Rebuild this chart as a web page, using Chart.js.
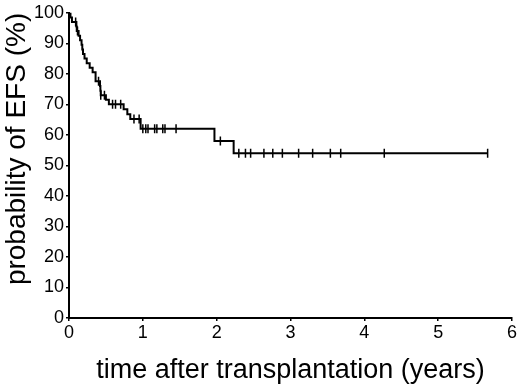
<!DOCTYPE html>
<html>
<head>
<meta charset="utf-8">
<script src="https://cdn.jsdelivr.net/npm/chart.js@4"></script>
<style>
  html, body { margin: 0; padding: 0; background: #fff; }
  #wrap { width: 520px; height: 387px; }
</style>
</head>
<body>
<div id="wrap"><canvas id="efsChart" width="520" height="387"></canvas></div>
<script>
// Kaplan-Meier steps: time (years) and survival level after each event (%)
const eventTimes = [0, 0.02, 0.04, 0.10, 0.105, 0.13, 0.15, 0.17, 0.18, 0.19, 0.21, 0.24, 0.28, 0.32, 0.36, 0.42, 0.425, 0.43, 0.50, 0.54, 0.74, 0.79, 0.83, 0.97, 1.97, 2.23, 5.67];
const survival   = [100, 98.5, 97, 95.5, 94, 92.5, 91, 89.5, 88, 86.5, 85, 83.5, 82, 80.5, 77.6, 76, 74.5, 73, 71.5, 70, 68.4, 66.8, 65.2, 62, 58, 54, 54];

// censored patients (tick marks on the curve)
const censorTimes  = [0.09, 0.115, 0.40, 0.43, 0.48, 0.59, 0.63, 0.70, 0.88, 0.95, 1.00, 1.04, 1.07, 1.16, 1.19, 1.27, 1.30, 1.45, 2.05, 2.30, 2.39, 2.46, 2.64, 2.76, 2.89, 3.11, 3.30, 3.54, 3.68, 4.27, 5.67];
const censorLevels = [97, 94, 77.6, 73, 73, 70, 70, 70, 65.2, 65.2, 62, 62, 62, 62, 62, 62, 62, 62, 58, 54, 54, 54, 54, 54, 54, 54, 54, 54, 54, 54, 54];

const xTicks = [0, 1, 2, 3, 4, 5, 6];
const yTicks = [0, 10, 20, 30, 40, 50, 60, 70, 80, 90, 100];

const curve = eventTimes.map((t, i) => ({ x: t, y: survival[i] }));
const censored = censorTimes.map((t, i) => ({ x: t, y: censorLevels[i] }));

const font = 'Arial, "Liberation Sans", Helvetica, sans-serif';

const ctx = document.getElementById('efsChart').getContext('2d');
new Chart(ctx, {
  type: 'line',
  data: {
    datasets: [{
      data: curve,
      borderColor: '#000',
      borderWidth: 2,
      stepped: 'before',
      pointRadius: 0,
      fill: false
    }, {
      data: censored,
      showLine: false,
      pointStyle: 'line',
      rotation: 90,
      pointRadius: 4.5,
      borderColor: '#000',
      borderWidth: 1.5,
      backgroundColor: '#000'
    }]
  },
  options: {
    responsive: false,
    animation: false,
    layout: { autoPadding: false, padding: { top: 9, right: 8, left: 0, bottom: 0 } },
    plugins: { legend: { display: false }, tooltip: { enabled: false } },
    scales: {
      x: {
        type: 'linear',
        min: 0,
        max: 6,
        afterFit: s => { s.height = 69; },
        afterBuildTicks: s => { s.ticks = xTicks.map(v => ({ value: v })); },
        border: { color: '#000', width: 2 },
        grid: { drawOnChartArea: false, drawTicks: true, tickLength: 3, tickColor: '#000', lineWidth: 1.5 },
        ticks: { color: '#000', font: { family: font, size: 18 }, padding: 1, maxRotation: 0 },
        title: {
          display: true,
          text: 'time after transplantation (years)',
          color: '#000',
          font: { family: font, size: 27 },
          padding: { top: 0, bottom: 0 }
        }
      },
      y: {
        type: 'linear',
        min: 0,
        max: 100,
        afterFit: s => { s.width = 69; },
        afterBuildTicks: s => { s.ticks = yTicks.map(v => ({ value: v })); },
        border: { color: '#000', width: 2 },
        grid: { drawOnChartArea: false, drawTicks: true, tickLength: 3, tickColor: '#000', lineWidth: 1.5 },
        ticks: { color: '#000', font: { family: font, size: 18 }, padding: 2 },
        title: {
          display: true,
          text: 'probability of EFS (%)',
          align: 'end',
          color: '#000',
          font: { family: font, size: 28 },
          padding: { top: 0, bottom: 0 }
        }
      }
    }
  }
});
</script>
</body>
</html>
